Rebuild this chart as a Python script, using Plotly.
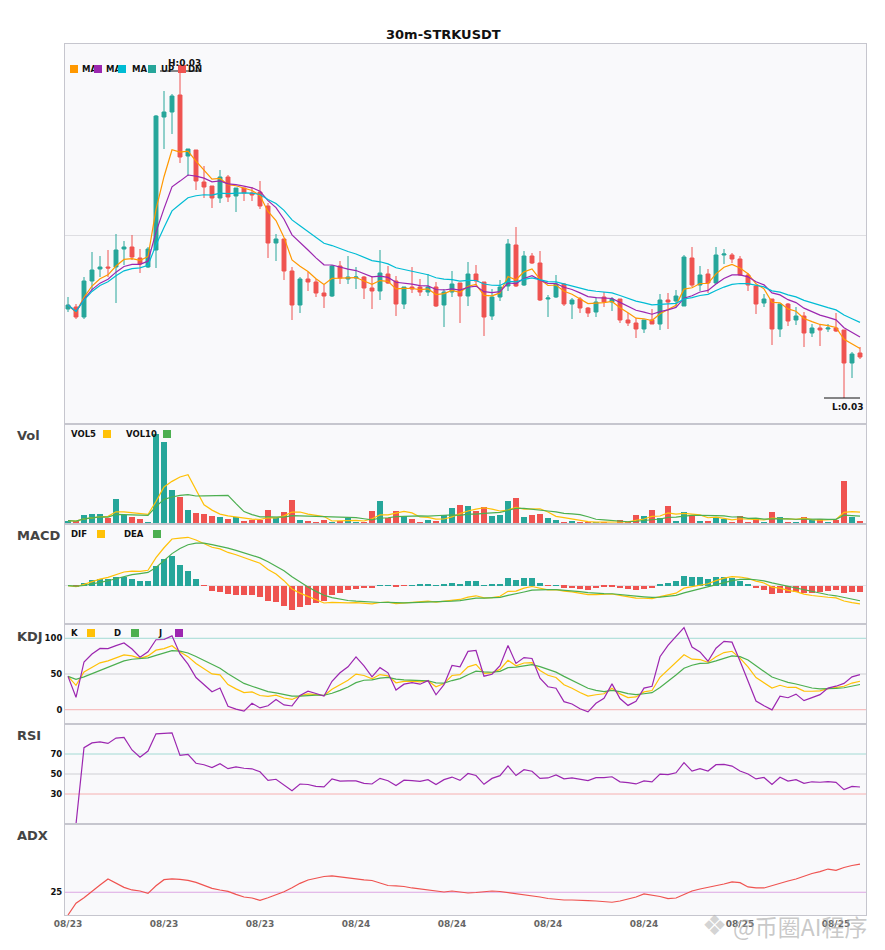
import pandas as pd
import plotly.graph_objects as go
from plotly.subplots import make_subplots

TITLE = "30m-STRKUSDT"
TICK_POS = [0, 12, 24, 36, 48, 60, 72, 84, 96]
TICK_LABELS = ["08/23", "08/23", "08/23", "08/24", "08/24", "08/24", "08/24", "08/25", "08/25"]

OPEN = [0.03126, 0.03128, 0.03118, 0.03154, 0.03166, 0.03168, 0.03168, 0.03186, 0.03188, 0.03177,
        0.03168, 0.03185, 0.03318, 0.03323, 0.03340, 0.03279, 0.03285, 0.03253, 0.03249, 0.03237,
        0.03258, 0.03239, 0.03247, 0.03242, 0.03243, 0.03229, 0.03192, 0.03196, 0.03164, 0.03130,
        0.03156, 0.03153, 0.03142, 0.03139, 0.03169, 0.03156, 0.03157, 0.03158, 0.03147, 0.03144,
        0.03161, 0.03154, 0.03131, 0.03148, 0.03148, 0.03143, 0.03148, 0.03130, 0.03143, 0.03152,
        0.03139, 0.03161, 0.03153, 0.03119, 0.03138, 0.03149, 0.03190, 0.03150, 0.03179, 0.03172,
        0.03136, 0.03138, 0.03151, 0.03131, 0.03136, 0.03127, 0.03123, 0.03138, 0.03133, 0.03136,
        0.03115, 0.03112, 0.03106, 0.03115, 0.03111, 0.03135, 0.03134, 0.03129, 0.03177, 0.03150,
        0.03161, 0.03152, 0.03180, 0.03180, 0.03176, 0.03160, 0.03149, 0.03132, 0.03136, 0.03106,
        0.03131, 0.03115, 0.03119, 0.03102, 0.03107, 0.03106, 0.03107, 0.03105, 0.03072, 0.03082]
HIGH = [0.03138, 0.03131, 0.03158, 0.03183, 0.03179, 0.03185, 0.03201, 0.03194, 0.03200, 0.03186,
        0.03188, 0.03320, 0.03344, 0.03341, 0.03364, 0.03286, 0.03285, 0.03269, 0.03249, 0.03265,
        0.03260, 0.03247, 0.03247, 0.03248, 0.03254, 0.03232, 0.03201, 0.03196, 0.03168, 0.03158,
        0.03163, 0.03156, 0.03150, 0.03170, 0.03174, 0.03179, 0.03168, 0.03159, 0.03159, 0.03185,
        0.03169, 0.03159, 0.03148, 0.03168, 0.03156, 0.03161, 0.03153, 0.03146, 0.03164, 0.03152,
        0.03173, 0.03170, 0.03153, 0.03146, 0.03155, 0.03196, 0.03208, 0.03184, 0.03182, 0.03184,
        0.03140, 0.03160, 0.03152, 0.03137, 0.03138, 0.03128, 0.03138, 0.03143, 0.03138, 0.03136,
        0.03122, 0.03117, 0.03115, 0.03126, 0.03141, 0.03142, 0.03145, 0.03180, 0.03188, 0.03169,
        0.03166, 0.03188, 0.03186, 0.03182, 0.03179, 0.03162, 0.03150, 0.03141, 0.03136, 0.03131,
        0.03132, 0.03128, 0.03123, 0.03111, 0.03111, 0.03111, 0.03122, 0.03105, 0.03083, 0.03088]
LOW = [0.03123, 0.03116, 0.03116, 0.03145, 0.03158, 0.03158, 0.03132, 0.03170, 0.03175, 0.03162,
       0.03167, 0.03167, 0.03286, 0.03301, 0.03272, 0.03259, 0.03245, 0.03237, 0.03227, 0.03232,
       0.03233, 0.03223, 0.03234, 0.03234, 0.03226, 0.03177, 0.03174, 0.03155, 0.03115, 0.03122,
       0.03144, 0.03138, 0.03127, 0.03138, 0.03151, 0.03151, 0.03146, 0.03136, 0.03126, 0.03135,
       0.03151, 0.03119, 0.03126, 0.03142, 0.03139, 0.03139, 0.03128, 0.03108, 0.03138, 0.03112,
       0.03129, 0.03150, 0.03099, 0.03115, 0.03134, 0.03144, 0.03148, 0.03149, 0.03171, 0.03134,
       0.03118, 0.03137, 0.03129, 0.03116, 0.03122, 0.03118, 0.03118, 0.03128, 0.03124, 0.03112,
       0.03109, 0.03097, 0.03102, 0.03111, 0.03105, 0.03106, 0.03128, 0.03129, 0.03148, 0.03144,
       0.03142, 0.03151, 0.03171, 0.03172, 0.03159, 0.03144, 0.03121, 0.03128, 0.03090, 0.03098,
       0.03109, 0.03110, 0.03088, 0.03098, 0.03089, 0.03103, 0.03103, 0.03037, 0.03057, 0.03076]
CLOSE = [0.03130, 0.03118, 0.03154, 0.03165, 0.03168, 0.03167, 0.03185, 0.03188, 0.03178, 0.03171,
         0.03186, 0.03319, 0.03323, 0.03339, 0.03278, 0.03286, 0.03254, 0.03248, 0.03237, 0.03258,
         0.03238, 0.03247, 0.03242, 0.03240, 0.03229, 0.03192, 0.03196, 0.03164, 0.03130, 0.03156,
         0.03153, 0.03142, 0.03139, 0.03169, 0.03157, 0.03158, 0.03158, 0.03147, 0.03144, 0.03162,
         0.03152, 0.03131, 0.03148, 0.03146, 0.03143, 0.03148, 0.03129, 0.03143, 0.03151, 0.03139,
         0.03161, 0.03154, 0.03118, 0.03138, 0.03148, 0.03191, 0.03149, 0.03179, 0.03172, 0.03135,
         0.03137, 0.03151, 0.03131, 0.03135, 0.03127, 0.03122, 0.03133, 0.03133, 0.03136, 0.03115,
         0.03112, 0.03106, 0.03115, 0.03111, 0.03135, 0.03133, 0.03139, 0.03178, 0.03150, 0.03160,
         0.03152, 0.03180, 0.03181, 0.03176, 0.03160, 0.03150, 0.03131, 0.03136, 0.03106, 0.03131,
         0.03114, 0.03119, 0.03102, 0.03107, 0.03105, 0.03107, 0.03104, 0.03072, 0.03081, 0.03078]
VOLUME = [3300, 2600, 9300, 10300, 10300, 5600, 25300, 9000, 6600, 4600,
          2300, 90300, 81600, 34300, 26600, 13600, 11300, 10300, 7600, 6600,
          4600, 6600, 2600, 4300, 4300, 13600, 6000, 12300, 23600, 4400,
          3400, 1400, 4400, 1400, 3400, 6100, 2400, 1700, 12600, 22800,
          6100, 12600, 8500, 5400, 2400, 4400, 3400, 9500, 15600, 18700,
          17700, 12600, 16700, 8500, 9500, 22800, 25900, 7500, 9500, 10500,
          6500, 4400, 1400, 3400, 1400, 1700, 1400, 1700, 700, 4400,
          2000, 9500, 8500, 13600, 6500, 17700, 3400, 11600, 9500, 3400,
          3400, 6500, 5400, 2400, 8500, 2400, 5400, 1400, 11600, 7500,
          1400, 1400, 7500, 4100, 5400, 1400, 4400, 43200, 7500, 2700]
ADX = [0.0, 12.9, 19.0, 26.4, 33.0, 39.6, 34.8, 30.4, 27.5, 26.4,
       23.8, 32.2, 38.8, 39.6, 39.2, 38.1, 35.9, 33.0, 29.3, 27.5,
       26.0, 22.7, 19.8, 18.7, 16.2, 19.0, 22.0, 25.6, 30.0, 34.8,
       38.5, 40.7, 42.3, 42.9, 41.8, 40.7, 39.0, 38.5, 37.9, 35.2,
       32.4, 31.9, 31.3, 29.7, 28.6, 27.5, 25.8, 25.3, 26.4, 25.3,
       24.2, 24.7, 25.8, 26.4, 25.8, 24.7, 23.6, 22.5, 21.4, 19.8,
       18.1, 17.0, 16.5, 16.5, 16.5, 15.9, 15.4, 14.8, 14.0, 15.4,
       17.6, 19.8, 23.1, 22.0, 20.3, 18.1, 18.7, 22.5, 26.4, 28.6,
       30.2, 31.9, 34.1, 36.3, 35.5, 30.8, 29.7, 29.7, 32.4, 35.5,
       37.4, 39.6, 42.9, 45.6, 47.6, 50.5, 49.1, 52.2, 54.4, 56.0]

# ---- indicators derived from the candles ----
df = pd.DataFrame({"o": OPEN, "h": HIGH, "l": LOW, "c": CLOSE, "v": VOLUME})
idx = list(range(len(df)))
c = df["c"]
ma5 = c.ewm(span=5).mean()
ma10 = c.ewm(span=10).mean()
ma20 = c.ewm(span=20).mean()
vol5 = df["v"].rolling(5, min_periods=1).mean()
vol10 = df["v"].rolling(10, min_periods=1).mean()
dif = c.ewm(span=12, adjust=False).mean() - c.ewm(span=26, adjust=False).mean()
dea = dif.ewm(span=5, adjust=False).mean()
hist = 2 * (dif - dea)
llv = df["l"].rolling(9, min_periods=1).min()
hhv = df["h"].rolling(9, min_periods=1).max()
rsv = (c - llv) / (hhv - llv) * 100
k = rsv.ewm(com=2, adjust=False).mean()
d = k.ewm(com=2, adjust=False).mean()
j = 3 * k - 2 * d
delta = c.diff()
gain = delta.clip(lower=0).ewm(com=13).mean()
loss = (-delta.clip(upper=0)).ewm(com=13).mean()
rsi = 100 * gain / (gain + loss)

UP, DN = "#26a69a", "#ef5350"
C_MA5, C_MA10, C_MA20 = "#ff9800", "#9c27b0", "#00bcd4"
C_Y, C_G, C_P = "#ffc107", "#4caf50", "#9c27b0"
FONT = "DejaVu Sans"
bar_colors = [UP if cl >= op else DN for op, cl in zip(OPEN, CLOSE)]
hist_colors = [UP if v >= 0 else DN for v in hist]

fig = make_subplots(rows=6, cols=1, shared_xaxes=True, vertical_spacing=0,
                    row_heights=[380, 100, 100, 100, 100, 91])

fig.add_trace(go.Candlestick(x=idx, open=OPEN, high=HIGH, low=LOW, close=CLOSE,
                             increasing=dict(line=dict(color=UP, width=1), fillcolor=UP),
                             decreasing=dict(line=dict(color=DN, width=1), fillcolor=DN),
                             whiskerwidth=0, hoverinfo="skip"), row=1, col=1)
for s, col in [(ma5, C_MA5), (ma10, C_MA10), (ma20, C_MA20)]:
    fig.add_trace(go.Scatter(x=idx, y=s, mode="lines", line=dict(color=col, width=1.2)), row=1, col=1)

fig.add_trace(go.Bar(x=idx, y=VOLUME, marker=dict(color=bar_colors, line=dict(width=0)), width=0.72), row=2, col=1)
fig.add_trace(go.Scatter(x=idx, y=vol5, mode="lines", line=dict(color=C_Y, width=1.2)), row=2, col=1)
fig.add_trace(go.Scatter(x=idx, y=vol10, mode="lines", line=dict(color=C_G, width=1.2)), row=2, col=1)

fig.add_trace(go.Bar(x=idx, y=hist, marker=dict(color=hist_colors, line=dict(width=0)), width=0.72), row=3, col=1)
fig.add_trace(go.Scatter(x=idx, y=dif, mode="lines", line=dict(color=C_Y, width=1.2)), row=3, col=1)
fig.add_trace(go.Scatter(x=idx, y=dea, mode="lines", line=dict(color=C_G, width=1.2)), row=3, col=1)

fig.add_trace(go.Scatter(x=idx, y=k, mode="lines", line=dict(color=C_Y, width=1.2)), row=4, col=1)
fig.add_trace(go.Scatter(x=idx, y=d, mode="lines", line=dict(color=C_G, width=1.2)), row=4, col=1)
fig.add_trace(go.Scatter(x=idx, y=j, mode="lines", line=dict(color=C_P, width=1.2)), row=4, col=1)

fig.add_trace(go.Scatter(x=idx, y=rsi, mode="lines", line=dict(color=C_P, width=1.2)), row=5, col=1)
fig.add_trace(go.Scatter(x=idx, y=ADX, mode="lines", line=dict(color=DN, width=1.2)), row=6, col=1)

# reference lines
for row, yv, colr in [(4, 100, "#a3dad4"), (4, 50, "#cfcfd4"), (4, 0, "#f6b0b0"),
                      (5, 70, "#a3dad4"), (5, 50, "#cfcfd4"), (5, 30, "#f6b0b0"),
                      (6, 25, "#dca6e3")]:
    fig.add_hline(y=yv, row=row, col=1, line=dict(color=colr, width=1), layer="below")

LINE = "#c6c6ce"
fig.update_xaxes(range=[-0.375, 99.75], showgrid=False, zeroline=False, showline=True, mirror=True,
                 linecolor=LINE, ticks="", showticklabels=False)
fig.update_xaxes(row=6, col=1, showticklabels=True, tickvals=TICK_POS, ticktext=TICK_LABELS,
                 tickfont=dict(size=9, color="#666666", family=FONT, weight="bold"))
fig.update_yaxes(showgrid=False, zeroline=False, showline=True, mirror=True, linecolor=LINE,
                 ticks="", showticklabels=False, fixedrange=True)
fig.update_yaxes(row=1, col=1, range=[0.03011, 0.03391], tickvals=[0.032], showgrid=True, gridcolor="#dedee2")
fig.update_yaxes(row=2, col=1, range=[0, 100000])
fig.update_yaxes(row=3, col=1, range=[-0.000341, 0.000549], zeroline=True, zerolinecolor="#e2e2e6", zerolinewidth=1)
tf = dict(size=8.5, color="#111111", family=FONT, weight="bold")
fig.update_yaxes(row=4, col=1, range=[-20, 120], tickvals=[0, 50, 100], showticklabels=True, tickfont=tf)
fig.update_yaxes(row=5, col=1, range=[0, 100], tickvals=[30, 50, 70], showticklabels=True, tickfont=tf)
fig.update_yaxes(row=6, col=1, range=[0, 100], tickvals=[25], showticklabels=True, tickfont=tf)

# high / low markers
hi_i = max(idx, key=lambda i: HIGH[i])
lo_i = min(idx, key=lambda i: LOW[i])
fig.add_shape(type="line", xref="x", yref="y", x0=hi_i - 2.5, x1=hi_i + 2.5, y0=HIGH[hi_i], y1=HIGH[hi_i],
              line=dict(color="#111111", width=1))
fig.add_shape(type="line", xref="x", yref="y", x0=lo_i - 2.5, x1=lo_i + 2.0, y0=LOW[lo_i], y1=LOW[lo_i],
              line=dict(color="#111111", width=1))

# pixel helpers (page pixels of the 885x950 window) for paper-positioned decorations
def px(x):
    return (x - 65) / 801.0

def py(y):
    return (915 - y) / 871.0

def lbl(x, y, text, size=8.5, color="#111111", anchor="left", family=FONT):
    return dict(xref="paper", yref="paper", x=px(x), y=py(y), xanchor=anchor, yanchor="middle",
                text="<b>%s</b>" % text, showarrow=False, borderpad=0,
                font=dict(size=size, color=color, family=family))

def sq(xc, yc, color):
    return dict(xref="paper", yref="paper", x=px(xc), y=py(yc), xanchor="center", yanchor="middle",
                text=" ", showarrow=False, width=8, height=8, bgcolor=color, borderpad=0,
                borderwidth=0, font=dict(size=6))

ann = []
ann.append(lbl(443, 34, TITLE, size=13, color="#111111", anchor="center"))
for name, yy in [("Vol", 435), ("MACD", 535), ("KDJ", 636), ("RSI", 735), ("ADX", 835)]:
    ann.append(lbl(16, yy, name, size=13, color="#444444"))
# main legend
for tx, x0 in [("MA", 81), ("MA", 105), ("MA", 131), ("UP", 160), ("DN", 187)]:
    ann.append(lbl(x0, 69, tx, size=8.5))
for xc, colr in [(73.5, C_MA5), (98, C_MA10), (122, C_MA20), (152, UP), (182, DN)]:
    ann.append(sq(xc, 69, colr))
# sub-panel legends
for tx, x0, yy in [("VOL5", 70, 434), ("VOL10", 125, 434), ("DIF", 70, 534), ("DEA", 123, 534),
                   ("K", 70, 633), ("D", 113, 633), ("J", 157, 633)]:
    ann.append(lbl(x0, yy, tx))
for xc, yy, colr in [(106.5, 434, C_Y), (167, 434, C_G), (101, 534, C_Y), (157, 534, C_G),
                     (91, 633, C_Y), (135, 633, C_G), (179, 633, C_P)]:
    ann.append(sq(xc, yy, colr))

ann.append(dict(xref="x", yref="y", x=hi_i + 0.5, y=HIGH[hi_i], yanchor="bottom", xanchor="center",
                yshift=1, text="<b>H:%.2f</b>" % HIGH[hi_i], showarrow=False,
                font=dict(size=9, color="#111111", family=FONT)))
ann.append(dict(xref="x", yref="y", x=lo_i + 0.45, y=LOW[lo_i], yanchor="top", xanchor="center",
                yshift=-2, text="<b>L:%.2f</b>" % LOW[lo_i], showarrow=False,
                font=dict(size=9, color="#111111", family=FONT)))

# watermark
ann.append(dict(xref="paper", yref="paper", x=px(714), y=py(925), xanchor="center", yanchor="middle",
                text="❖", showarrow=False, font=dict(size=28, color="rgba(175,175,175,0.55)", family=FONT)))
ann.append(dict(xref="paper", yref="paper", x=px(731), y=py(926), xanchor="left", yanchor="middle",
                text="@币圈AI程序", showarrow=False,
                font=dict(size=23, color="rgba(165,165,165,0.6)", family="Noto Sans CJK SC")))

for a in ann:
    fig.add_annotation(**a)

# the page body has an 8px margin, so the figure is 8px smaller than the window on each axis
fig.update_layout(width=877, height=942, margin=dict(l=57, r=19, t=36, b=35),
                  paper_bgcolor="white", plot_bgcolor="#f9f9fb", showlegend=False,
                  xaxis_rangeslider_visible=False, boxgap=0.3, bargap=0,
                  font=dict(family=FONT, color="#111111"), hovermode=False)

fig.write_html("out.html")
